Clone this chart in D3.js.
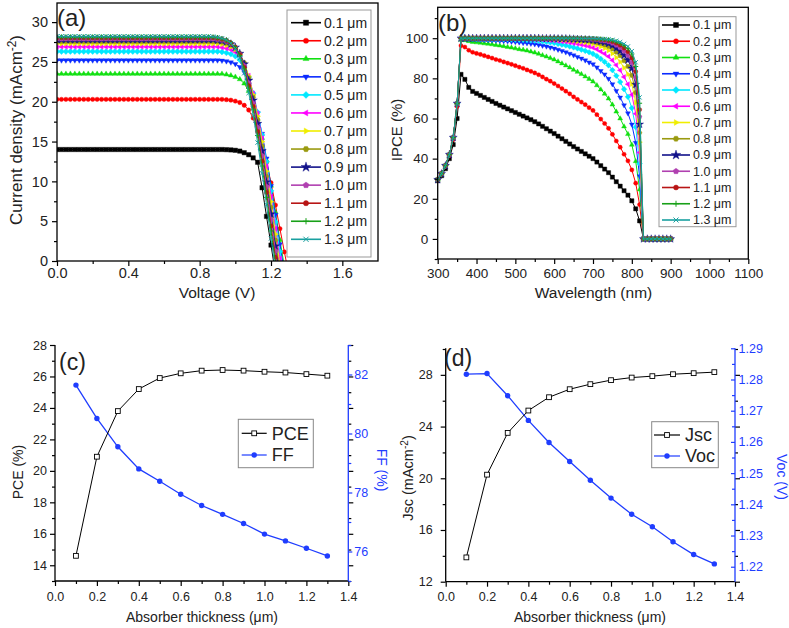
<!DOCTYPE html>
<html>
<head>
<meta charset="utf-8">
<script src="https://cdn.jsdelivr.net/npm/d3@7"></script>
<style>
  body { margin: 0; background: #fff; }
</style>
</head>
<body>
<script>
// ---- data ----
const thicknessLabels = ["0.1 μm", "0.2 μm", "0.3 μm", "0.4 μm", "0.5 μm", "0.6 μm", "0.7 μm",
                         "0.8 μm", "0.9 μm", "1.0 μm", "1.1 μm", "1.2 μm", "1.3 μm"];

// (a) J-V curves, current density at each voltage
const voltage = [0, 0.025, 0.05, 0.075, 0.1, 0.125, 0.15, 0.175, 0.2, 0.225, 0.25, 0.275,
  0.3, 0.325, 0.35, 0.375, 0.4, 0.425, 0.45, 0.475, 0.5, 0.525, 0.55, 0.575,
  0.6, 0.625, 0.65, 0.675, 0.7, 0.725, 0.75, 0.775, 0.8, 0.825, 0.85, 0.875,
  0.9, 0.925, 0.95, 0.975, 1.0, 1.025, 1.05, 1.075, 1.1, 1.125, 1.15, 1.175,
  1.2, 1.225, 1.25, 1.275, 1.3];

const jv01 = [
  14.0, 14.0, 14.0, 14.0, 14.0, 14.0, 14.0, 14.0, 14.0, 14.0, 14.0, 14.0,
  14.0, 14.0, 14.0, 14.0, 14.0, 14.0, 14.0, 14.0, 14.0, 14.0, 14.0, 14.0,
  14.0, 14.0, 14.0, 14.0, 14.0, 14.0, 14.0, 14.0, 14.0, 14.0, 14.0, 14.0,
  14.0, 14.0, 13.98, 13.95, 13.9, 13.8, 13.6, 13.35, 12.95, 12.4, 9.2, 5.6, 2.0, -1.6];
const jv02 = [
  20.3, 20.3, 20.3, 20.3, 20.3, 20.3, 20.3, 20.3, 20.3, 20.3, 20.3, 20.3,
  20.3, 20.3, 20.3, 20.3, 20.3, 20.3, 20.3, 20.3, 20.3, 20.3, 20.3, 20.3,
  20.3, 20.3, 20.3, 20.3, 20.3, 20.3, 20.3, 20.3, 20.3, 20.3, 20.3, 20.3,
  20.3, 20.3, 20.26, 20.2, 20.08, 19.9, 19.55, 18.96, 17.95, 16.43, 14.58, 12.4, 9.82, 7.02, 4.06, 1.14, -1.7];
const jv03 = [
  23.5, 23.5, 23.5, 23.5, 23.5, 23.5, 23.5, 23.5, 23.5, 23.5, 23.5, 23.5,
  23.5, 23.5, 23.5, 23.5, 23.5, 23.5, 23.5, 23.5, 23.5, 23.5, 23.5, 23.5,
  23.5, 23.5, 23.5, 23.5, 23.5, 23.5, 23.5, 23.5, 23.5, 23.5, 23.5, 23.5,
  23.5, 23.5, 23.41, 23.3, 23.12, 22.82, 22.28, 21.34, 19.81, 17.77, 15.44, 12.64, 9.45, 6.11, 2.63, -0.66];
const jv04 = [
  25.2, 25.2, 25.2, 25.2, 25.2, 25.2, 25.2, 25.2, 25.2, 25.2, 25.2, 25.2,
  25.2, 25.2, 25.2, 25.2, 25.2, 25.2, 25.2, 25.2, 25.2, 25.2, 25.2, 25.2,
  25.2, 25.2, 25.2, 25.2, 25.2, 25.2, 25.2, 25.2, 25.2, 25.2, 25.2, 25.2,
  25.2, 25.17, 25.09, 24.95, 24.75, 24.37, 23.71, 22.58, 20.82, 18.57, 15.98, 12.88, 9.42, 5.8, 2.12, -1.41];
const jv05 = [
  26.3, 26.3, 26.3, 26.3, 26.3, 26.3, 26.3, 26.3, 26.3, 26.3, 26.3, 26.3,
  26.3, 26.3, 26.3, 26.3, 26.3, 26.3, 26.3, 26.3, 26.3, 26.3, 26.3, 26.3,
  26.3, 26.3, 26.3, 26.3, 26.3, 26.3, 26.3, 26.3, 26.3, 26.3, 26.3, 26.3,
  26.3, 26.25, 26.14, 25.98, 25.72, 25.27, 24.49, 23.12, 21.09, 18.67, 15.83, 12.47, 8.81, 4.89, 1.18, -2.5];
const jv06 = [
  26.9, 26.9, 26.9, 26.9, 26.9, 26.9, 26.9, 26.9, 26.9, 26.9, 26.9, 26.9,
  26.9, 26.9, 26.9, 26.9, 26.9, 26.9, 26.9, 26.9, 26.9, 26.9, 26.9, 26.9,
  26.9, 26.9, 26.9, 26.9, 26.9, 26.9, 26.9, 26.9, 26.9, 26.9, 26.9, 26.9,
  26.9, 26.82, 26.71, 26.55, 26.25, 25.74, 24.83, 23.27, 21.04, 18.51, 15.44, 11.86, 8.1, 4.06, 0.3, -3.45];
const jv07 = [
  27.3, 27.3, 27.3, 27.3, 27.3, 27.3, 27.3, 27.3, 27.3, 27.3, 27.3, 27.3,
  27.3, 27.3, 27.3, 27.3, 27.3, 27.3, 27.3, 27.3, 27.3, 27.3, 27.3, 27.3,
  27.3, 27.3, 27.3, 27.3, 27.3, 27.3, 27.3, 27.3, 27.3, 27.3, 27.3, 27.3,
  27.3, 27.22, 27.08, 26.89, 26.56, 25.96, 24.92, 23.21, 20.86, 18.18, 14.99, 11.27, 7.45, 3.36, -0.46];
const jv08 = [
  27.6, 27.6, 27.6, 27.6, 27.6, 27.6, 27.6, 27.6, 27.6, 27.6, 27.6, 27.6,
  27.6, 27.6, 27.6, 27.6, 27.6, 27.6, 27.6, 27.6, 27.6, 27.6, 27.6, 27.6,
  27.6, 27.6, 27.6, 27.6, 27.6, 27.6, 27.6, 27.6, 27.6, 27.6, 27.6, 27.6,
  27.57, 27.49, 27.35, 27.13, 26.74, 26.05, 24.87, 22.99, 20.56, 17.75, 14.41, 10.63, 6.73, 2.62, -1.23];
const jv09 = [
  27.8, 27.8, 27.8, 27.8, 27.8, 27.8, 27.8, 27.8, 27.8, 27.8, 27.8, 27.8,
  27.8, 27.8, 27.8, 27.8, 27.8, 27.8, 27.8, 27.8, 27.8, 27.8, 27.8, 27.8,
  27.8, 27.8, 27.8, 27.8, 27.8, 27.8, 27.8, 27.8, 27.8, 27.8, 27.8, 27.8,
  27.74, 27.66, 27.52, 27.24, 26.83, 26.05, 24.71, 22.68, 20.18, 17.24, 13.82, 9.92, 5.89, 1.86, -2.02];
const jv10 = [
  27.9, 27.9, 27.9, 27.9, 27.9, 27.9, 27.9, 27.9, 27.9, 27.9, 27.9, 27.9,
  27.9, 27.9, 27.9, 27.9, 27.9, 27.9, 27.9, 27.9, 27.9, 27.9, 27.9, 27.9,
  27.9, 27.9, 27.9, 27.9, 27.9, 27.9, 27.9, 27.9, 27.9, 27.9, 27.9, 27.9,
  27.84, 27.73, 27.57, 27.29, 26.81, 25.97, 24.52, 22.38, 19.81, 16.8, 13.22, 9.35, 5.19, 1.25, -2.66];
const jv11 = [
  28.05, 28.05, 28.05, 28.05, 28.05, 28.05, 28.05, 28.05, 28.05, 28.05, 28.05, 28.05,
  28.05, 28.05, 28.05, 28.05, 28.05, 28.05, 28.05, 28.05, 28.05, 28.05, 28.05, 28.05,
  28.05, 28.05, 28.05, 28.05, 28.05, 28.05, 28.05, 28.05, 28.05, 28.05, 28.05, 28.05,
  27.97, 27.85, 27.69, 27.38, 26.84, 25.92, 24.32, 22.02, 19.41, 16.24, 12.54, 8.61, 4.4, 0.48, -3.45];
const jv12 = [
  28.13, 28.13, 28.13, 28.13, 28.13, 28.13, 28.13, 28.13, 28.13, 28.13, 28.13, 28.13,
  28.13, 28.13, 28.13, 28.13, 28.13, 28.13, 28.13, 28.13, 28.13, 28.13, 28.13, 28.13,
  28.13, 28.13, 28.13, 28.13, 28.13, 28.13, 28.13, 28.13, 28.13, 28.13, 28.13, 28.13,
  28.05, 27.93, 27.74, 27.4, 26.84, 25.82, 24.11, 21.69, 18.99, 15.75, 11.93, 7.99, 3.77, -0.16];
const jv13 = [
  28.21, 28.21, 28.21, 28.21, 28.21, 28.21, 28.21, 28.21, 28.21, 28.21, 28.21, 28.21,
  28.21, 28.21, 28.21, 28.21, 28.21, 28.21, 28.21, 28.21, 28.21, 28.21, 28.21, 28.21,
  28.21, 28.21, 28.21, 28.21, 28.21, 28.21, 28.21, 28.21, 28.21, 28.21, 28.21, 28.18,
  28.1, 27.96, 27.76, 27.36, 26.66, 25.47, 23.58, 21.1, 18.28, 14.87, 11.0, 7.05, 2.85, -1.11];

// (b) IPCE spectra
const wavelength = [300, 310, 320, 330, 340, 350, 360, 370, 380, 390,
  400, 410, 420, 430, 440, 450, 460, 470, 480, 490,
  500, 510, 520, 530, 540, 550, 560, 570, 580, 590,
  600, 610, 620, 630, 640, 650, 660, 670, 680, 690,
  700, 710, 720, 730, 740, 750, 760, 770, 780, 790,
  800, 810, 820, 830, 840, 850, 860, 870, 880, 890,
  900];

const ipce01 = [29, 31.5, 35, 40, 47, 60, 82, 79.5, 75.5, 73.5,
  72.5, 71.5, 70.5, 69.5, 68.5, 67.5, 66.6, 65.7, 64.8, 63.9,
  63, 62.1, 61.2, 60.3, 59.4, 58.4, 57.3, 56.1, 54.9, 53.7,
  52.5, 51.2, 49.9, 48.6, 47.3, 46, 44.8, 43.6, 42.4, 41.2,
  40, 38.3, 36.5, 34.8, 33, 30.8, 28.5, 26.3, 24, 21.8,
  19, 15, 9, 0, 0, 0, 0, 0, 0, 0,
  0];
const ipce02 = [29.5, 32.3, 36.2, 41.5, 49.5, 66, 96.3, 95.6, 94.0, 93.0,
  92.4, 91.9, 91.3, 90.7, 90.1, 89.4, 88.9, 88.2, 87.6, 87.0,
  86.3, 85.6, 85.0, 84.2, 83.5, 82.7, 81.8, 80.7, 79.6, 78.6,
  77.4, 76.2, 74.9, 73.6, 72.3, 70.8, 69.5, 68.2, 66.9, 65.4,
  64.0, 61.9, 59.7, 57.5, 55.1, 52.1, 48.8, 45.7, 42.2, 38.9,
  34.4, 27.8, 17.1, 0, 0, 0, 0, 0, 0, 0,
  0];
const ipce03 = [29.5, 32.5, 36.5, 42, 50.5, 67.5, 99.2, 99.0, 98.5, 98.1,
  97.9, 97.7, 97.4, 97.2, 96.9, 96.6, 96.3, 96.0, 95.6, 95.3,
  94.9, 94.5, 94.2, 93.8, 93.3, 92.8, 92.2, 91.5, 90.8, 90.1,
  89.3, 88.4, 87.4, 86.4, 85.4, 84.2, 83.2, 82.1, 80.9, 79.7,
  78.4, 76.5, 74.4, 72.3, 69.9, 66.9, 63.4, 60.0, 56.0, 52.2,
  46.9, 38.7, 24.6, 0, 0, 0, 0, 0, 0, 0,
  0];
const ipce04 = [29.5, 32.5, 36.5, 42, 50.5, 67.5, 99.9, 99.8, 99.6, 99.5,
  99.4, 99.3, 99.2, 99.1, 99.0, 98.9, 98.8, 98.6, 98.5, 98.3,
  98.1, 97.9, 97.7, 97.5, 97.3, 97.0, 96.7, 96.3, 95.9, 95.4,
  94.9, 94.3, 93.7, 93.0, 92.3, 91.5, 90.7, 89.9, 89.0, 88.0,
  87.1, 85.5, 83.7, 82.0, 79.8, 77.1, 73.8, 70.5, 66.6, 62.6,
  57.0, 47.9, 31.3, 0, 0, 0, 0, 0, 0, 0,
  0];
const ipce05 = [29.5, 32.5, 36.5, 42, 50.5, 67.5, 100, 100, 99.9, 99.9,
  99.8, 99.8, 99.8, 99.7, 99.7, 99.6, 99.6, 99.5, 99.5, 99.4,
  99.3, 99.2, 99.1, 99.0, 98.9, 98.8, 98.6, 98.4, 98.1, 97.9,
  97.6, 97.2, 96.8, 96.4, 95.9, 95.4, 94.9, 94.3, 93.7, 93.0,
  92.2, 91.1, 89.7, 88.2, 86.5, 84.1, 81.3, 78.2, 74.6, 70.8,
  65.2, 55.7, 37.5, 0, 0, 0, 0, 0, 0, 0,
  0];
const ipce06 = [29.5, 32.5, 36.5, 42, 50.5, 67.5, 100, 100, 100, 100,
  100, 100, 99.9, 99.9, 99.9, 99.9, 99.9, 99.8, 99.8, 99.8,
  99.7, 99.7, 99.7, 99.6, 99.6, 99.5, 99.4, 99.3, 99.2, 99.0,
  98.8, 98.6, 98.4, 98.2, 97.9, 97.5, 97.2, 96.8, 96.4, 95.9,
  95.3, 94.5, 93.4, 92.3, 90.9, 89.0, 86.6, 84.0, 80.7, 77.1,
  71.8, 62.4, 43.1, 0, 0, 0, 0, 0, 0, 0,
  0];
const ipce07 = [29.5, 32.5, 36.5, 42, 50.5, 67.5, 100, 100, 100, 100,
  100, 100, 100, 100, 100, 100, 100, 99.9, 99.9, 99.9,
  99.9, 99.9, 99.9, 99.8, 99.8, 99.8, 99.7, 99.7, 99.6, 99.5,
  99.5, 99.3, 99.2, 99.1, 98.9, 98.7, 98.4, 98.2, 97.9, 97.6,
  97.2, 96.6, 95.8, 95.0, 93.9, 92.4, 90.4, 88.2, 85.3, 82.1,
  77.2, 68.0, 48.2, 0, 0, 0, 0, 0, 0, 0,
  0];
const ipce08 = [29.5, 32.5, 36.5, 42, 50.5, 67.5, 100, 100, 100, 100,
  100, 100, 100, 100, 100, 100, 100, 100, 100, 100,
  100, 100, 100, 99.9, 99.9, 99.9, 99.9, 99.9, 99.8, 99.8,
  99.7, 99.7, 99.6, 99.5, 99.4, 99.3, 99.1, 99.0, 98.8, 98.6,
  98.3, 97.9, 97.4, 96.7, 95.9, 94.7, 93.1, 91.3, 88.8, 86.0,
  81.5, 72.9, 52.9, 0, 0, 0, 0, 0, 0, 0,
  0];
const ipce09 = [29.5, 32.5, 36.5, 42, 50.5, 67.5, 100, 100, 100, 100,
  100, 100, 100, 100, 100, 100, 100, 100, 100, 100,
  100, 100, 100, 100, 100, 100, 100, 99.9, 99.9, 99.9,
  99.9, 99.8, 99.8, 99.8, 99.7, 99.6, 99.5, 99.4, 99.3, 99.2,
  99.0, 98.7, 98.3, 97.9, 97.3, 96.4, 95.1, 93.6, 91.5, 89.1,
  85.0, 76.9, 57.1, 0, 0, 0, 0, 0, 0, 0,
  0];
const ipce10 = [29.5, 32.5, 36.5, 42, 50.5, 67.5, 100, 100, 100, 100,
  100, 100, 100, 100, 100, 100, 100, 100, 100, 100,
  100, 100, 100, 100, 100, 100, 100, 100, 100, 100,
  99.9, 99.9, 99.9, 99.9, 99.8, 99.8, 99.7, 99.7, 99.6, 99.5,
  99.4, 99.2, 98.9, 98.6, 98.2, 97.5, 96.5, 95.3, 93.5, 91.5,
  87.9, 80.4, 60.9, 0, 0, 0, 0, 0, 0, 0,
  0];
const ipce11 = [29.5, 32.5, 36.5, 42, 50.5, 67.5, 100, 100, 100, 100,
  100, 100, 100, 100, 100, 100, 100, 100, 100, 100,
  100, 100, 100, 100, 100, 100, 100, 100, 100, 100,
  100, 100, 100, 99.9, 99.9, 99.9, 99.9, 99.8, 99.8, 99.7,
  99.6, 99.5, 99.3, 99.1, 98.8, 98.3, 97.5, 96.5, 95.1, 93.3,
  90.2, 83.4, 64.4, 0, 0, 0, 0, 0, 0, 0,
  0];
const ipce12 = [29.5, 32.5, 36.5, 42, 50.5, 67.5, 100, 100, 100, 100,
  100, 100, 100, 100, 100, 100, 100, 100, 100, 100,
  100, 100, 100, 100, 100, 100, 100, 100, 100, 100,
  100, 100, 100, 100, 100, 99.9, 99.9, 99.9, 99.9, 99.8,
  99.8, 99.7, 99.6, 99.4, 99.2, 98.8, 98.2, 97.4, 96.3, 94.8,
  92.1, 85.9, 67.6, 0, 0, 0, 0, 0, 0, 0,
  0];
const ipce13 = [29.5, 32.5, 36.5, 42, 50.5, 67.5, 100, 100, 100, 100,
  100, 100, 100, 100, 100, 100, 100, 100, 100, 100,
  100, 100, 100, 100, 100, 100, 100, 100, 100, 100,
  100, 100, 100, 100, 100, 100, 100, 99.9, 99.9, 99.9,
  99.9, 99.8, 99.7, 99.6, 99.4, 99.2, 98.7, 98.1, 97.2, 95.9,
  93.6, 88.0, 70.5, 0, 0, 0, 0, 0, 0, 0,
  0];

// (c), (d) device parameters vs absorber thickness
const thickness = [0.1, 0.2, 0.3, 0.4, 0.5, 0.6, 0.7, 0.8, 0.9, 1.0, 1.1, 1.2, 1.3];
const pce = [14.6, 20.9, 23.8, 25.2, 25.9, 26.2, 26.37, 26.41, 26.37, 26.3, 26.25, 26.15, 26.05];
const ff  = [81.64, 80.51, 79.55, 78.8, 78.38, 77.94, 77.56, 77.26, 76.95, 76.59, 76.36, 76.11, 75.85];
const jsc = [13.88, 20.28, 23.51, 25.24, 26.27, 26.89, 27.28, 27.59, 27.79, 27.9, 28.05, 28.13, 28.21];
const voc = [1.2817, 1.2819, 1.2748, 1.2669, 1.2598, 1.2537, 1.2477, 1.242, 1.2368, 1.2328, 1.228, 1.2239, 1.2209];

const jvSeries = [jv01, jv02, jv03, jv04, jv05, jv06, jv07, jv08, jv09, jv10, jv11, jv12, jv13];
const ipceSeries = [ipce01, ipce02, ipce03, ipce04, ipce05, ipce06, ipce07, ipce08, ipce09, ipce10, ipce11, ipce12, ipce13];

const seriesColors = ["#000000", "#ff0000", "#11e011", "#0a2aff", "#00e8ff", "#ff00ff", "#f0ee00",
                      "#9a9a10", "#12128a", "#b040b0", "#b81515", "#18a018", "#1aa0a0"];
const seriesSymbols = ["square", "circle", "triUp", "triDown", "diamond", "triLeft", "triRight",
                       "hexagon", "star", "pentagon", "circle", "plus", "cross"];

// ---- helpers ----
const font = "Arial, 'Liberation Sans', sans-serif";
const blue = "#1f3dff";
const textColor = "#222";

const svg = d3.select("body").append("svg")
    .attr("width", 789)
    .attr("height", 628);

const polygon = (n, rot, rr) => "M" + d3.range(n).map(i => {
    const a = rot + i * 2 * Math.PI / n;
    return [(rr * Math.sin(a)).toFixed(2), (-rr * Math.cos(a)).toFixed(2)].join(",");
}).join("L") + "Z";

const symbolPath = (type, r) => {
    switch (type) {
        case "square": return `M${-r},${-r}H${r}V${r}H${-r}Z`;
        case "circle": return d3.symbol(d3.symbolCircle, Math.PI * r * r)();
        case "triUp": return polygon(3, 0, r * 1.35);
        case "triDown": return polygon(3, Math.PI, r * 1.35);
        case "triLeft": return polygon(3, -Math.PI / 2, r * 1.35);
        case "triRight": return polygon(3, Math.PI / 2, r * 1.35);
        case "diamond": return polygon(4, 0, r * 1.35);
        case "hexagon": return polygon(6, Math.PI / 6, r * 1.15);
        case "pentagon": return polygon(5, 0, r * 1.2);
        case "star": return d3.symbol(d3.symbolStar, r * r * 4.5)();
        case "plus": return `M${-r * 1.2},0H${r * 1.2}M0,${-r * 1.2}V${r * 1.2}`;
        case "cross": return `M${-r},${-r}L${r},${r}M${-r},${r}L${r},${-r}`;
    }
};

const addMarkers = (g, xy, i, r) => {
    const open = seriesSymbols[i] === "plus" || seriesSymbols[i] === "cross";
    g.selectAll(null)
        .data(xy)
        .join("path")
        .attr("d", symbolPath(seriesSymbols[i], r))
        .attr("transform", d => `translate(${d[0]},${d[1]})`)
        .attr("fill", open ? "none" : seriesColors[i])
        .attr("stroke", seriesColors[i])
        .attr("stroke-width", open ? 1 : 0.4);
};

const drawSeries = (parent, pts, x, y, i, r) => {
    const g = parent.append("g");
    g.append("path")
        .datum(pts)
        .attr("fill", "none")
        .attr("stroke", seriesColors[i])
        .attr("stroke-width", 1)
        .attr("d", d3.line().x(d => x(d[0])).y(d => y(d[1])));
    addMarkers(g, pts.map(d => [x(d[0]), y(d[1])]), i, r);
};

// axis with major + minor ticks, no domain line
const addAxis = (orient, scale, pos, majors, minors, fmt, o) => {
    const make = {bottom: d3.axisBottom, left: d3.axisLeft, right: d3.axisRight}[orient];
    const dir = o.inward ? -1 : 1;
    const g = svg.append("g")
        .attr("transform", orient === "bottom" ? `translate(0,${pos})` : `translate(${pos},0)`);
    g.append("g").call(make(scale).tickValues(minors).tickSize(3 * dir).tickFormat(""));
    g.append("g").call(make(scale).tickValues(majors).tickSize((o.len || 5) * dir)
        .tickPadding(o.pad !== undefined ? o.pad : 3).tickFormat(fmt || (() => "")));
    g.selectAll(".domain").remove();
    g.selectAll("line").attr("stroke", o.color || "#000").attr("stroke-width", 1.2);
    g.selectAll("text")
        .attr("fill", o.textColor || textColor)
        .style("font-family", font)
        .style("font-size", (o.size || 12) + "px");
    return g;
};

const addText = (x, y, str, size, o = {}) => svg.append("text")
    .attr("transform", `translate(${x},${y})` + (o.rotate ? ` rotate(${o.rotate})` : ""))
    .attr("text-anchor", o.anchor || "middle")
    .attr("dy", o.dy || 0)
    .attr("fill", o.color || textColor)
    .style("font-family", font)
    .style("font-size", size + "px")
    .text(str);

// rotated label with a -2 superscript, e.g. "Current density (mAcm-2)"
const addSupLabel = (x, y, before, sup, size) => {
    const t = svg.append("text")
        .attr("transform", `translate(${x},${y}) rotate(-90)`)
        .attr("text-anchor", "middle")
        .attr("dy", "0.35em")
        .attr("fill", textColor)
        .style("font-family", font)
        .style("font-size", size + "px");
    t.append("tspan").text(before);
    t.append("tspan").attr("dy", -size * 0.38).style("font-size", (size * 0.7) + "px").text(sup);
    t.append("tspan").attr("dy", size * 0.38).text(")");
};

const line = (x1, y1, x2, y2, color, w) => svg.append("line")
    .attr("x1", x1).attr("y1", y1).attr("x2", x2).attr("y2", y2)
    .attr("stroke", color).attr("stroke-width", w);

// ---- (a) J-V ----
const xA = d3.scaleLinear().domain([0, 1.8]).range([57, 378]);
const yA = d3.scaleLinear().domain([0, 32.4]).range([261, 3]);

svg.append("clipPath").attr("id", "clipA")
    .append("rect").attr("x", 57).attr("y", 3).attr("width", 321).attr("height", 258);

const plotA = svg.append("g").attr("clip-path", "url(#clipA)");
jvSeries.forEach((js, i) => drawSeries(plotA, js.map((j, k) => [voltage[k], j]), xA, yA, i, 2.2));

addAxis("bottom", xA, 261, [0, 0.4, 0.8, 1.2, 1.6], [0.2, 0.6, 1.0, 1.4], d3.format(".1f"), {pad: 1.5, size: 14.5});
addAxis("left", yA, 57, [0, 5, 10, 15, 20, 25, 30], [2.5, 7.5, 12.5, 17.5, 22.5, 27.5], d3.format("d"), {pad: 4, size: 14.5});

const legAy = d3.scalePoint().domain(thicknessLabels).range([22.7, 239.3]);
svg.append("rect").attr("x", 287).attr("y", 10).attr("width", 84).attr("height", 247)
    .attr("fill", "#fff").attr("stroke", "#999").attr("stroke-width", 1);
thicknessLabels.forEach((t, i) => {
    const g = svg.append("g");
    g.append("line").attr("x1", 291).attr("x2", 321).attr("y1", legAy(t)).attr("y2", legAy(t))
        .attr("stroke", seriesColors[i]).attr("stroke-width", 1.6);
    addMarkers(g, [[306, legAy(t)]], i, 2.6);
    g.append("text").attr("x", 324).attr("y", legAy(t)).attr("dy", "0.35em")
        .attr("fill", textColor).style("font-family", font).style("font-size", "14px").text(t);
});

svg.append("rect").attr("x", 57).attr("y", 3).attr("width", 321).attr("height", 258)
    .attr("fill", "none").attr("stroke", "#000").attr("stroke-width", 1.3);

addText(57, 25.5, "(a)", 24, {anchor: "start"});
addText(217, 297.5, "Voltage (V)", 15.5);
addSupLabel(16, 130, "Current density (mAcm", "-2", 17);

// ---- (b) IPCE ----
const xB = d3.scaleLinear().domain([300, 1100]).range([437.7, 748.3]);
const yB = d3.scaleLinear().domain([-10, 115.4]).range([259, 7.3]);

const plotB = svg.append("g");
ipceSeries.forEach((s, i) => drawSeries(plotB, s.map((v, k) => [wavelength[k], v]), xB, yB, i, 2.1));

addAxis("bottom", xB, 259, [300, 400, 500, 600, 700, 800, 900, 1000, 1100],
        [350, 450, 550, 650, 750, 850, 950, 1050], d3.format("d"), {pad: 4.3, size: 13.5});
addAxis("left", yB, 437.7, [0, 20, 40, 60, 80, 100], [-10, 10, 30, 50, 70, 90, 110], d3.format("d"), {pad: 4.4, size: 13.5});

const legBy = d3.scalePoint().domain(thicknessLabels).range([25, 220]);
svg.append("rect").attr("x", 659).attr("y", 16.7).attr("width", 77).attr("height", 210)
    .attr("fill", "#fff").attr("stroke", "#999").attr("stroke-width", 1);
thicknessLabels.forEach((t, i) => {
    const g = svg.append("g");
    g.append("line").attr("x1", 662).attr("x2", 690).attr("y1", legBy(t)).attr("y2", legBy(t))
        .attr("stroke", seriesColors[i]).attr("stroke-width", 1.6);
    addMarkers(g, [[676, legBy(t)]], i, 2.5);
    g.append("text").attr("x", 693).attr("y", legBy(t)).attr("dy", "0.35em")
        .attr("fill", textColor).style("font-family", font).style("font-size", "12.5px").text(t);
});

svg.append("rect").attr("x", 437.7).attr("y", 7.3).attr("width", 310.6).attr("height", 251.7)
    .attr("fill", "none").attr("stroke", "#000").attr("stroke-width", 1.3);

addText(438, 30.5, "(b)", 24, {anchor: "start"});
addText(593.5, 297.5, "Wavelength (nm)", 15.5);
addText(397, 130, "IPCE (%)", 15, {rotate: -90, dy: "0.35em"});

// ---- (c) PCE & FF ----
const xC = d3.scaleLinear().domain([0, 1.4]).range([55, 348.3]);
const yC = d3.scaleLinear().domain([13, 28]).range([581, 345]);
const yC2 = d3.scaleLinear().domain([75, 83]).range([581, 345]);

const thickMajor = [0, 0.2, 0.4, 0.6, 0.8, 1.0, 1.2, 1.4];
const thickMinor = [0.1, 0.3, 0.5, 0.7, 0.9, 1.1, 1.3];

addAxis("bottom", xC, 581, thickMajor, thickMinor, d3.format(".1f"), {pad: 5.7, size: 12.5});
addAxis("left", yC, 55, [14, 16, 18, 20, 22, 24, 26, 28], [13, 15, 17, 19, 21, 23, 25, 27], d3.format("d"), {pad: 3, size: 12.5});
addAxis("left", yC, 348.3, [14, 16, 18, 20, 22, 24, 26, 28], [13, 15, 17, 19, 21, 23, 25, 27], null, {inward: true});
addAxis("right", yC2, 348.3, [76, 78, 80, 82], [75, 77, 79, 81, 83], d3.format("d"),
        {pad: 2, len: 4, size: 12.5, color: blue, textColor: blue});
line(55, 345, 55, 581, "#000", 1.3);
line(55, 581, 348.3, 581, "#000", 1.3);
line(348.3, 345, 348.3, 581, blue, 1.3);

const drawPair = (ptsA, ptsB) => {
    svg.append("path").datum(ptsB).attr("fill", "none").attr("stroke", blue).attr("stroke-width", 1.3)
        .attr("d", d3.line());
    svg.selectAll(null).data(ptsB).join("circle")
        .attr("cx", d => d[0]).attr("cy", d => d[1]).attr("r", 2.7).attr("fill", blue);
    svg.append("path").datum(ptsA).attr("fill", "none").attr("stroke", "#000").attr("stroke-width", 1)
        .attr("d", d3.line());
    svg.selectAll(null).data(ptsA).join("rect")
        .attr("x", d => d[0] - 2.4).attr("y", d => d[1] - 2.4).attr("width", 4.8).attr("height", 4.8)
        .attr("fill", "#fff").attr("stroke", "#000").attr("stroke-width", 0.9);
};
drawPair(thickness.map((t, i) => [xC(t), yC(pce[i])]), thickness.map((t, i) => [xC(t), yC2(ff[i])]));

const pairLegend = (x0, y0, w, h, lx1, lx2, tx, rows) => {
    svg.append("rect").attr("x", x0).attr("y", y0).attr("width", w).attr("height", h)
        .attr("fill", "#fff").attr("stroke", "#888").attr("stroke-width", 1);
    rows.forEach(r => {
        line(lx1, r.y, lx2, r.y, r.color, 1.2);
        const mx = (lx1 + lx2) / 2;
        if (r.open) {
            svg.append("rect").attr("x", mx - 2.4).attr("y", r.y - 2.4).attr("width", 4.8).attr("height", 4.8)
                .attr("fill", "#fff").attr("stroke", "#000").attr("stroke-width", 0.9);
        } else {
            svg.append("circle").attr("cx", mx).attr("cy", r.y).attr("r", 2.7).attr("fill", r.color);
        }
        addText(tx, r.y, r.label, 18, {anchor: "start", dy: "0.35em"});
    });
};
pairLegend(238.3, 419.3, 75, 48.4, 241.7, 266.7, 271.7, [
    {y: 433.3, label: "PCE", color: "#000", open: true},
    {y: 455, label: "FF", color: blue, open: false}
]);

addText(59, 370, "(c)", 23, {anchor: "start"});
addText(202, 622, "Absorber thickness (μm)", 14);
addText(18.5, 472, "PCE (%)", 14, {rotate: -90, dy: "0.35em"});
addText(381.5, 470, "FF (%)", 14, {rotate: 90, dy: "0.35em", color: blue});

// ---- (d) Jsc & Voc ----
const xD = d3.scaleLinear().domain([0, 1.4]).range([445.7, 735]);
const yD = d3.scaleLinear().domain([12, 30]).range([581.7, 349]);
const yD2 = d3.scaleLinear().domain([1.2152, 1.29]).range([581.7, 348.3]);

addAxis("bottom", xD, 581.7, thickMajor, thickMinor, d3.format(".1f"), {pad: 5, size: 12.5});
addAxis("left", yD, 445.7, [12, 16, 20, 24, 28], [14, 18, 22, 26, 30], d3.format("d"), {pad: 8, size: 12.5});
addAxis("left", yD, 735, [12, 16, 20, 24, 28], [14, 18, 22, 26, 30], null, {inward: true});
addAxis("right", yD2, 735, [1.22, 1.23, 1.24, 1.25, 1.26, 1.27, 1.28, 1.29],
        [1.225, 1.235, 1.245, 1.255, 1.265, 1.275, 1.285], d3.format(".2f"),
        {pad: 3.5, len: 4, inward: true, size: 12.5, color: blue, textColor: blue});
line(445.7, 348.3, 445.7, 581.7, "#000", 1.3);
line(445.7, 581.7, 735, 581.7, "#000", 1.3);
line(735, 348.3, 735, 581.7, blue, 1.3);

drawPair(thickness.map((t, i) => [xD(t), yD(jsc[i])]), thickness.map((t, i) => [xD(t), yD2(voc[i])]));

pairLegend(651.7, 421.7, 66.6, 46, 654, 680, 685, [
    {y: 435, label: "Jsc", color: "#000", open: true},
    {y: 456, label: "Voc", color: blue, open: false}
]);

addText(444, 366, "(d)", 23, {anchor: "start"});
addText(590, 622, "Absorber thickness (μm)", 14);
addSupLabel(408, 478, "Jsc (mAcm", "-2", 14.5);
addText(782, 477, "Voc (V)", 14, {rotate: 90, dy: "0.35em", color: blue});
</script>
</body>
</html>
